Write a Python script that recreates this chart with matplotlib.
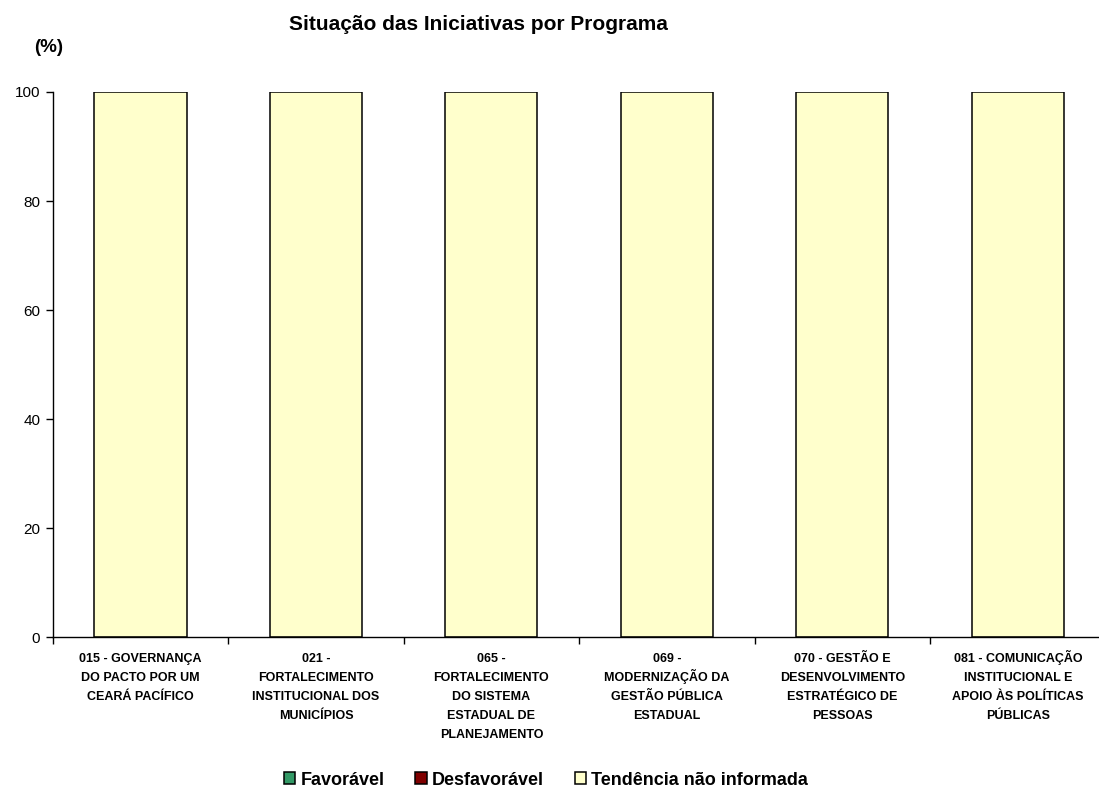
import numpy as np
import matplotlib.pyplot as plt
from matplotlib.ticker import FixedLocator

plt.rcParams['font.family'] = ['Liberation Sans', 'DejaVu Sans']

programas = [
    "015 - GOVERNANÇA\nDO PACTO POR UM\nCEARÁ PACÍFICO",
    "021 -\nFORTALECIMENTO\nINSTITUCIONAL DOS\nMUNICÍPIOS",
    "065 -\nFORTALECIMENTO\nDO SISTEMA\nESTADUAL DE\nPLANEJAMENTO",
    "069 -\nMODERNIZAÇÃO DA\nGESTÃO PÚBLICA\nESTADUAL",
    "070 - GESTÃO E\nDESENVOLVIMENTO\nESTRATÉGICO DE\nPESSOAS",
    "081 - COMUNICAÇÃO\nINSTITUCIONAL E\nAPOIO ÀS POLÍTICAS\nPÚBLICAS",
]
favoravel = [0, 0, 0, 0, 0, 0]
desfavoravel = [0, 0, 0, 0, 0, 0]
nao_informada = [100, 100, 100, 100, 100, 100]

fig = plt.figure(figsize=(10.99, 7.89), dpi=100)
ax = fig.add_axes([0.048, 0.1926, 0.958, 0.6908])

x = np.arange(len(programas))
w = 0.525
ax.bar(x, favoravel, w, color='#339966', edgecolor='black', linewidth=1.1,
       label='Favorável')
ax.bar(x, desfavoravel, w, bottom=favoravel, color='#800000',
       edgecolor='black', linewidth=1.1, label='Desfavorável')
base = np.array(favoravel) + np.array(desfavoravel)
ax.bar(x, nao_informada, w, bottom=base, color='#FFFFCC', edgecolor='black',
       linewidth=1.1, label='Tendência não informada')

ax.set_xlim(-0.5, len(programas) - 0.5)
ax.set_ylim(0, 100)
ax.set_yticks([0, 20, 40, 60, 80, 100])
ax.tick_params(axis='y', labelsize=11, length=5, width=1, direction='out', pad=4)

# category labels: one text per line so accented lines keep even spacing
ax.set_xticks(x)
ax.set_xticklabels([])
ax.tick_params(axis='x', which='major', length=0)
ax.xaxis.set_minor_locator(FixedLocator(np.arange(len(programas) + 1) - 0.5))
ax.tick_params(axis='x', which='minor', length=5, width=1, direction='out')
for i, nome in enumerate(programas):
    for j, linha in enumerate(nome.split('\n')):
        ax.annotate(linha, xy=(x[i], 0), xycoords=('data', 'axes fraction'),
                    xytext=(0, -18.2 - 13.7 * j), textcoords='offset points',
                    ha='center', va='baseline', fontsize=9, fontweight='bold')

for s in ['top', 'right']:
    ax.spines[s].set_visible(False)
for s in ['left', 'bottom']:
    ax.spines[s].set_linewidth(1)

fig.text(0.435, 0.962, "Situação das Iniciativas por Programa", fontsize=15,
         fontweight='bold', ha='center', va='baseline')
fig.text(0.044, 0.94, "(%)", fontsize=13.5, fontweight='bold', ha='center',
         va='center')

fig.legend(loc='center', bbox_to_anchor=(0.497, 0.0114), ncol=3, frameon=False,
           prop={'weight': 'bold', 'size': 13}, handlelength=0.62,
           handleheight=0.62, handletextpad=0.3, columnspacing=1.7,
           borderaxespad=0)

fig.savefig('out.png', dpi=100)
